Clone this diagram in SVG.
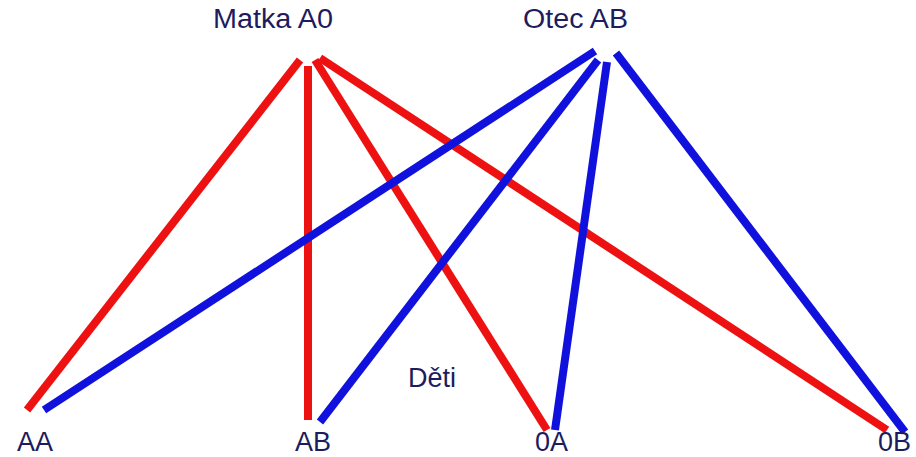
<svg xmlns="http://www.w3.org/2000/svg" width="916" height="457" viewBox="0 0 916 457">
<style>
.t{font-family:"Liberation Sans",Arial,sans-serif;font-size:27px;fill:#1c1c5e}
.r{stroke:#ee1111;stroke-width:8;fill:none}
.b{stroke:#1111dd;stroke-width:8;fill:none}
</style>
<rect width="916" height="457" fill="#ffffff"/>
<g id="connectors">
<line class="r" x1="300" y1="60" x2="27" y2="410"/>
<line class="r" x1="308" y1="66" x2="308" y2="420"/>
<line class="r" x1="315" y1="60" x2="547" y2="430"/>
<line class="r" x1="320" y1="58" x2="887" y2="430"/>
<line class="b" x1="595" y1="51" x2="44" y2="410"/>
<line class="b" x1="598" y1="60" x2="320" y2="422"/>
<line class="b" x1="607" y1="62" x2="555" y2="430"/>
<line class="b" x1="616" y1="53" x2="905" y2="432"/>
</g>
<g id="matka"><text class="t" x="213" y="28" textLength="120" lengthAdjust="spacingAndGlyphs">Matka A0</text></g>
<g id="otec"><text class="t" x="523" y="28" textLength="105" lengthAdjust="spacingAndGlyphs">Otec AB</text></g>
<g id="deti"><text class="t" x="408" y="387">Děti</text></g>
<g id="aa"><text class="t" x="17" y="451">AA</text></g>
<g id="ab"><text class="t" x="295" y="451">AB</text></g>
<g id="0a"><text class="t" x="535" y="451">0A</text></g>
<g id="0b"><text class="t" x="878" y="451">0B</text></g>
</svg>
